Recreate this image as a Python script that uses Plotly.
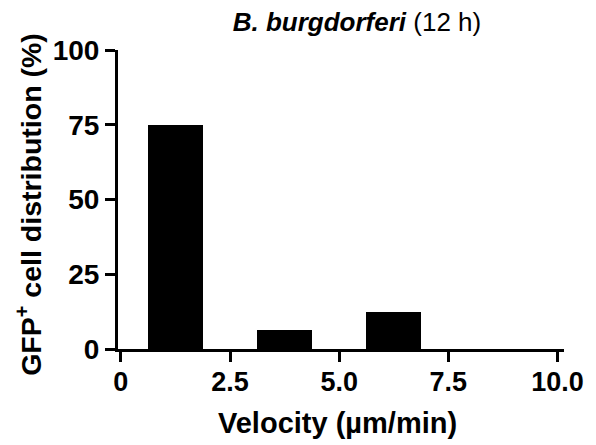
import plotly.graph_objects as go

# Data
bin_centers = [1.25, 3.75, 6.25, 8.75]
distribution = [75, 6.25, 12.5, 0]
x_ticks = [0, 2.5, 5.0, 7.5, 10.0]
x_tick_labels = ["0", "2.5", "5.0", "7.5", "10.0"]
y_ticks = [0, 25, 50, 75, 100]
y_tick_labels = ["0", "25", "50", "75", "100"]

FONT = "Arial, 'Liberation Sans', sans-serif"
W, H = 596, 445

fig = go.Figure()
fig.add_trace(go.Bar(
    x=bin_centers, y=distribution, width=1.25,
    marker=dict(color="black", line=dict(width=0)),
    showlegend=False,
))

fig.update_layout(
    width=W, height=H,
    margin=dict(l=118, r=28, t=50, b=96),
    paper_bgcolor="white", plot_bgcolor="white",
    font=dict(family=FONT, color="black"),
    title=dict(
        text="<b><i>B. burgdorferi</i></b> (12 h)",
        x=357 / W, xanchor="center", xref="container",
        y=1 - 22 / H, yanchor="middle", yref="container",
        font=dict(size=26, family=FONT, color="black"),
    ),
    xaxis=dict(
        range=[-0.066, 10.15],
        tickvals=x_ticks, ticktext=x_tick_labels,
        showline=True, linecolor="black", linewidth=3,
        ticks="outside", ticklen=10, tickwidth=3, tickcolor="black",
        showgrid=False, zeroline=False, ticklabelstandoff=-3,
        tickfont=dict(size=27, family=FONT, color="black", weight="bold"),
    ),
    yaxis=dict(
        range=[0, 100],
        tickvals=y_ticks, ticktext=y_tick_labels,
        showline=True, linecolor="black", linewidth=3,
        ticks="outside", ticklen=10, tickwidth=3, tickcolor="black",
        showgrid=False, zeroline=False,
        tickfont=dict(size=28, family=FONT, color="black", weight="bold"),
    ),
    bargap=0,
    annotations=[
        dict(text="<b>Velocity (µm/min)</b>", xref="paper", yref="paper",
             x=(339 - 118) / 450, y=-(423 - 349) / 299,
             xanchor="center", yanchor="middle", showarrow=False,
             font=dict(size=29, family=FONT, color="black")),
        dict(text="<b>GFP<sup>+</sup> cell distribution (%)</b>", xref="paper", yref="paper",
             x=-(118 - 28) / 450, y=(349 - 204) / 299, textangle=-90,
             xanchor="center", yanchor="middle", showarrow=False,
             font=dict(size=28.5, family=FONT, color="black")),
    ],
)

fig.write_html("out.html")
